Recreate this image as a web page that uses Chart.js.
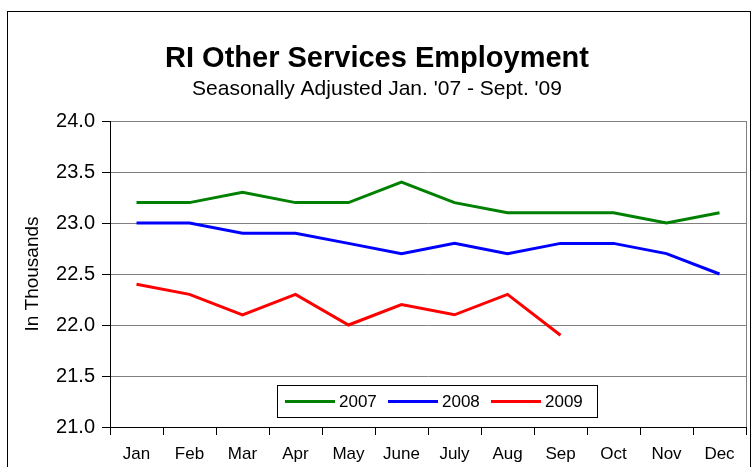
<!DOCTYPE html>
<html>
<head>
<meta charset="utf-8">
<script src="https://cdn.jsdelivr.net/npm/chart.js@4"></script>
<style>
  body { margin: 0; background: #fff; }
  #wrap { position: relative; width: 752px; height: 467px; overflow: hidden; }
  #frame { position: absolute; left: 7px; top: 11px; width: 742px; height: 480px; border: 1px solid #000; }
  canvas { position: absolute; left: 0; top: 0; }
</style>
</head>
<body>
<div id="wrap">
  <div id="frame"></div>
  <canvas id="myChart" width="752" height="467"></canvas>
</div>
<script>
//Data
const months = ['Jan', 'Feb', 'Mar', 'Apr', 'May', 'June', 'July', 'Aug', 'Sep', 'Oct', 'Nov', 'Dec']
const y2007 = [23.2, 23.2, 23.3, 23.2, 23.2, 23.4, 23.2, 23.1, 23.1, 23.1, 23.0, 23.1]
const y2008 = [23.0, 23.0, 22.9, 22.9, 22.8, 22.7, 22.8, 22.7, 22.8, 22.8, 22.7, 22.5]
const y2009 = [22.4, 22.3, 22.1, 22.3, 22.0, 22.2, 22.1, 22.3, 21.9]

const font = "'Liberation Sans', Arial, sans-serif"

//plot frame (gray) drawn before the axes
const plotFrame = {
  id: 'plotFrame',
  beforeDraw(chart) {
    const a = chart.chartArea
    const c = chart.ctx
    c.save()
    c.strokeStyle = '#808080'
    c.lineWidth = 1
    c.strokeRect(a.left + 0.5, a.top + 0.5, a.right - a.left, a.bottom - a.top)
    c.restore()
  }
}

//legend box inside the plot
const boxLegend = {
  id: 'boxLegend',
  afterDraw(chart) {
    const a = chart.chartArea
    const c = chart.ctx
    const w = 320, h = 32
    const x = a.left + 167, y = a.bottom - 42
    c.save()
    c.fillStyle = '#fff'
    c.fillRect(x, y, w, h)
    c.strokeStyle = '#000'
    c.lineWidth = 1
    c.strokeRect(x + 0.5, y + 0.5, w, h)
    c.font = '17px ' + font
    c.textBaseline = 'middle'
    chart.data.datasets.forEach((ds, i) => {
      const sx = x + 8 + i * 103
      c.strokeStyle = ds.borderColor
      c.lineWidth = 3
      c.beginPath()
      c.moveTo(sx, y + h / 2 + 0.5)
      c.lineTo(sx + 50, y + h / 2 + 0.5)
      c.stroke()
      c.fillStyle = '#000'
      c.fillText(ds.label, sx + 54, y + h / 2 + 1)
    })
    c.restore()
  }
}

var ctx = document.getElementById('myChart')
var myChart = new Chart(ctx, {
  type: 'line',
  data: {
    labels: months,
    datasets: [
      { label: '2007', data: y2007, borderColor: '#008000', backgroundColor: '#008000', borderWidth: 3, pointRadius: 0, tension: 0 },
      { label: '2008', data: y2008, borderColor: '#0000ff', backgroundColor: '#0000ff', borderWidth: 3, pointRadius: 0, tension: 0 },
      { label: '2009', data: y2009, borderColor: '#ff0000', backgroundColor: '#ff0000', borderWidth: 3, pointRadius: 0, tension: 0 },
    ],
  },
  options: {
    responsive: false,
    animation: false,
    layout: { padding: { left: 8, right: 6, top: 0, bottom: 0 } },
    plugins: {
      legend: { display: false },
      tooltip: { enabled: false },
      title: {
        display: true,
        text: 'RI Other Services Employment',
        color: '#000',
        font: { family: font, size: 29, weight: 'bold', lineHeight: 1.2 },
        padding: { top: 42, bottom: 0 },
      },
      subtitle: {
        display: true,
        text: "Seasonally Adjusted Jan. '07 - Sept. '09",
        color: '#000',
        font: { family: font, size: 21, lineHeight: 1.2 },
        padding: { top: 0, bottom: 19 },
      },
    },
    scales: {
      x: {
        offset: true,
        afterFit(scale) { scale.height = 40 },
        grid: { offset: true, drawOnChartArea: false, tickLength: 8, tickColor: '#000' },
        border: { color: '#000', width: 1 },
        ticks: { color: '#000', font: { family: font, size: 17 }, padding: 9, maxRotation: 0, autoSkip: false },
      },
      y: {
        min: 21,
        max: 24,
        afterFit(scale) { scale.width = 102 },
        title: { display: true, text: 'In Thousands', color: '#000', font: { family: font, size: 19 }, padding: { top: 13, bottom: 0 } },
        grid: { color: '#808080', tickLength: 8, tickColor: '#000' },
        border: { color: '#000', width: 1 },
        ticks: {
          stepSize: 0.5,
          color: '#000',
          font: { family: font, size: 20 },
          padding: 7,
          callback: v => v.toFixed(1),
        },
      },
    },
  },
  plugins: [plotFrame, boxLegend],
})
</script>
</body>
</html>
